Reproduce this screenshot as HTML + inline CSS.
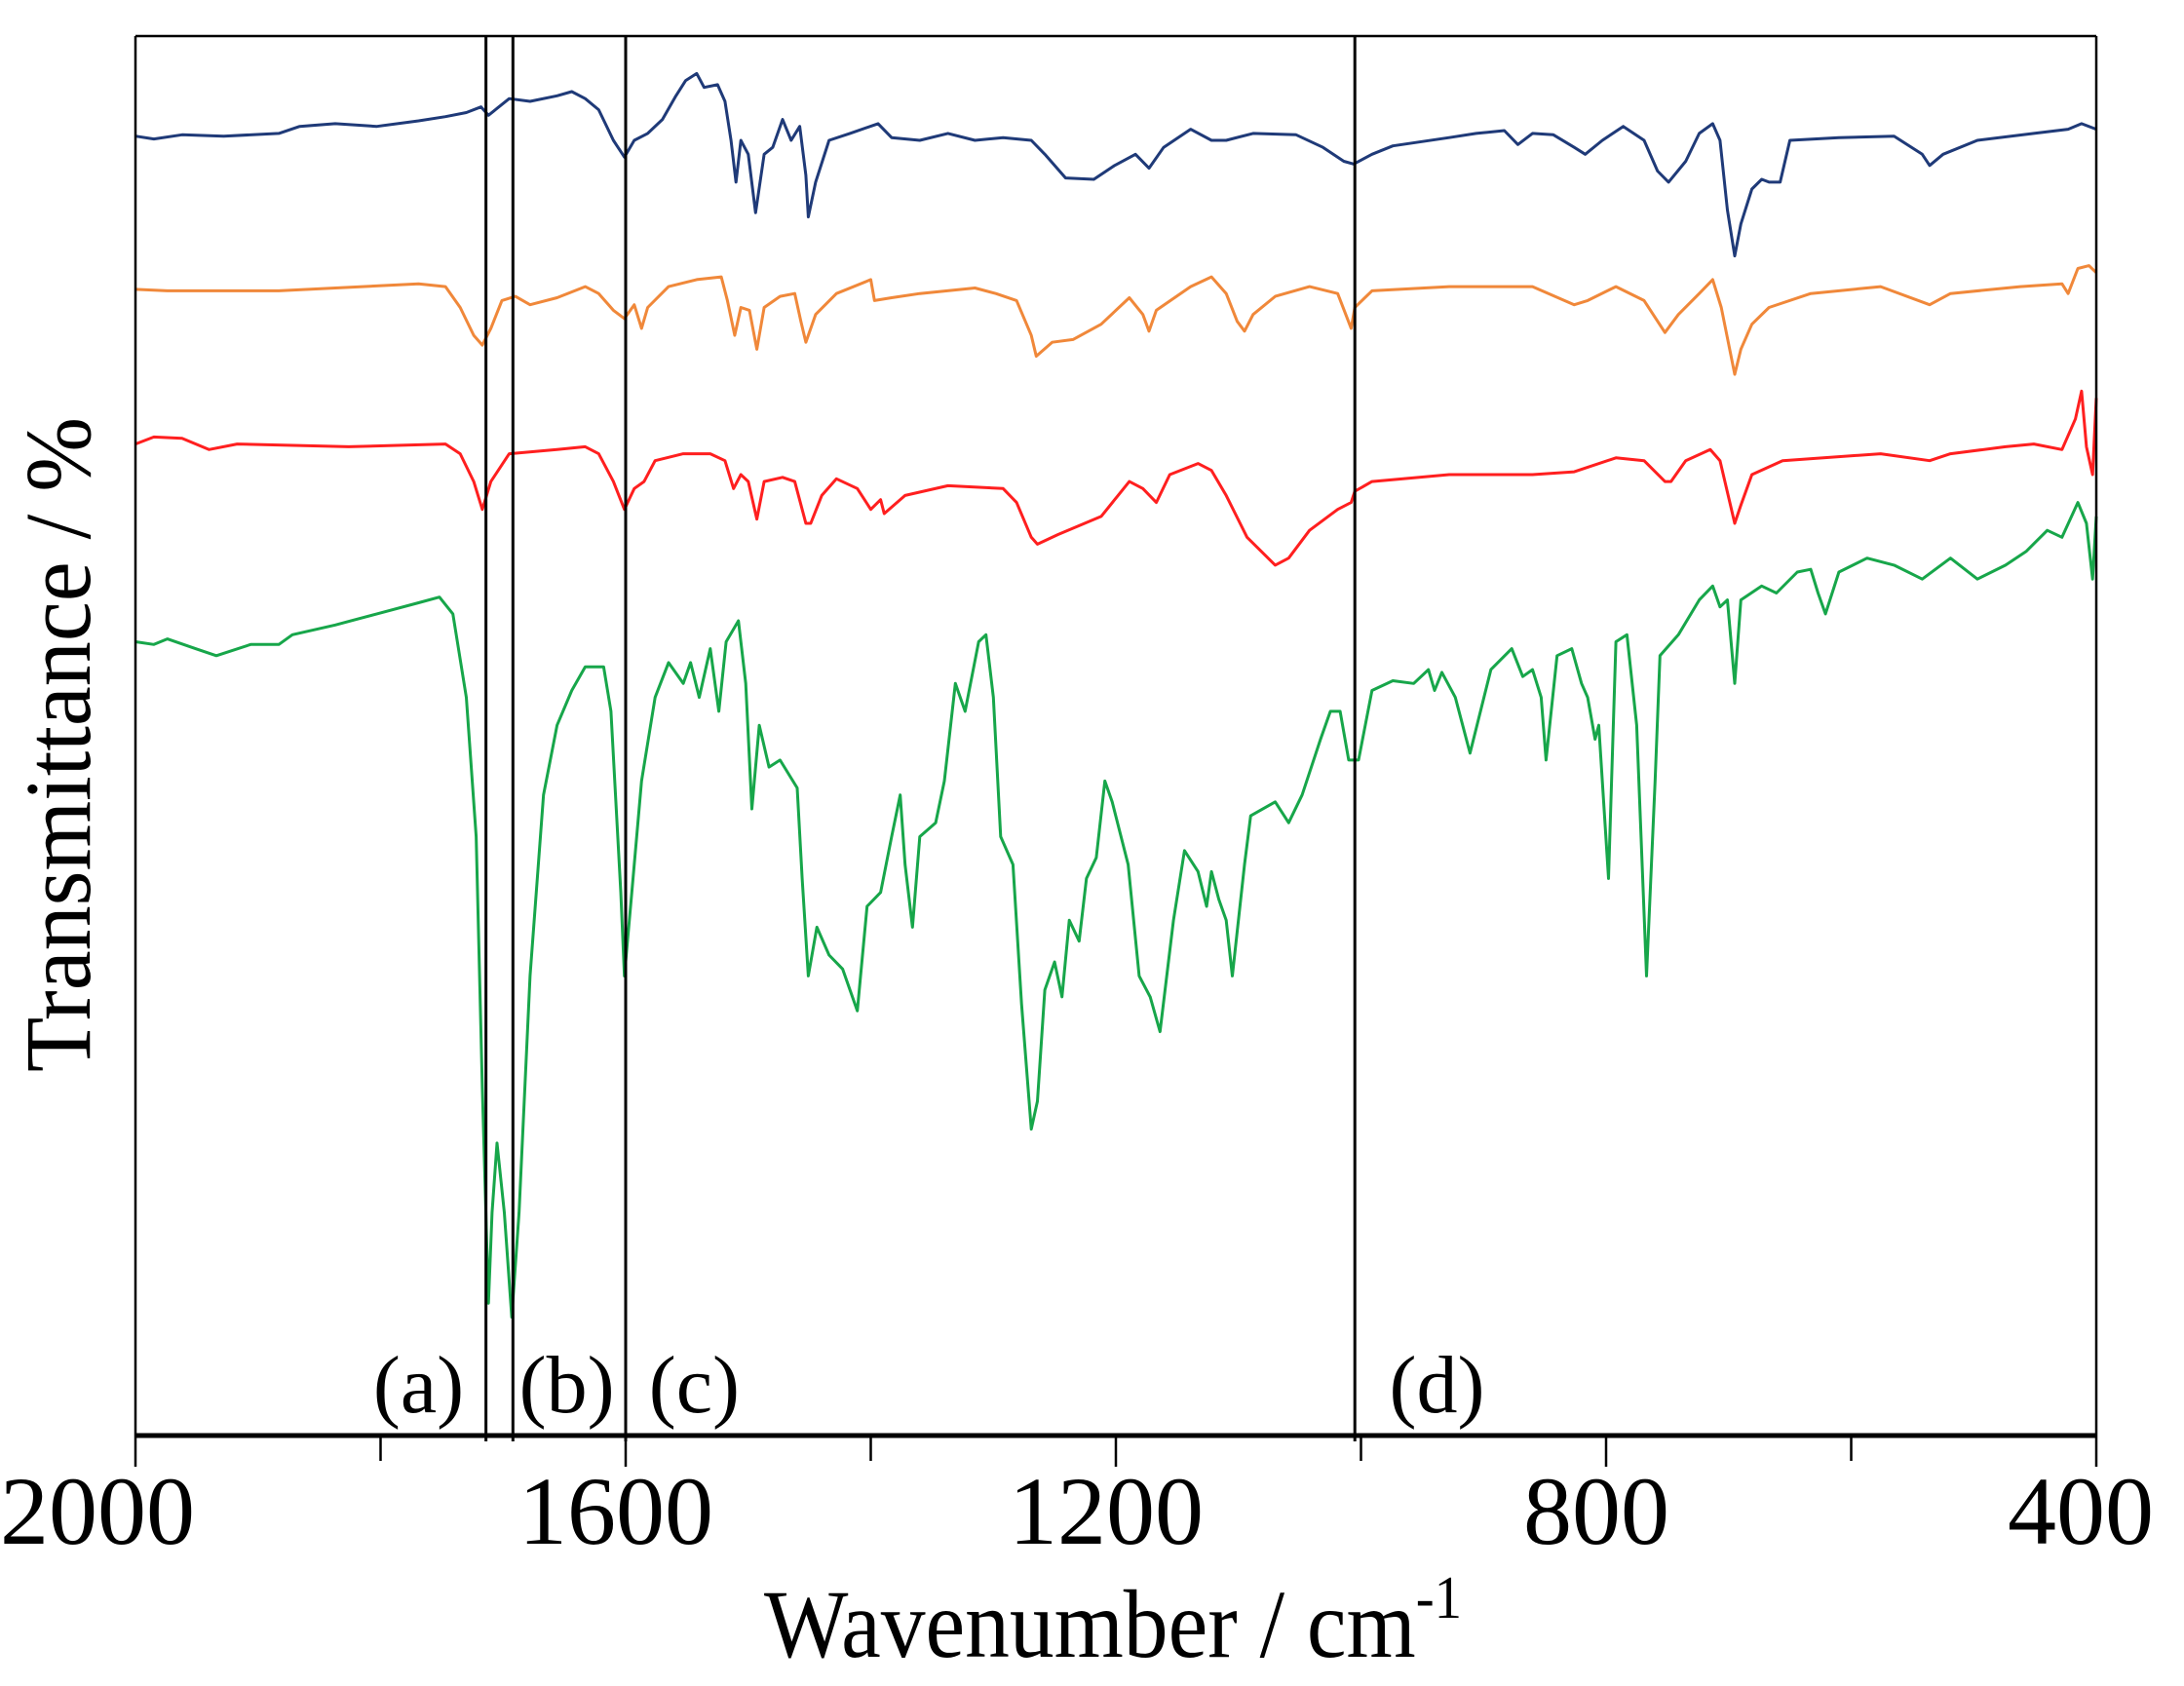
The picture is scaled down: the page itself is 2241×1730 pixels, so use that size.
<!DOCTYPE html>
<html><head><meta charset="utf-8"><style>
html,body{margin:0;padding:0;background:#fff;}
svg{display:block;}
text{font-family:"Liberation Serif",serif;fill:#000;}
</style></head><body>
<svg id="chart" width="2241" height="1730" viewBox="0 0 2241 1730" xmlns="http://www.w3.org/2000/svg">
<rect x="0" y="0" width="2241" height="1730" fill="#fff"/>
<g id="series"></g>
<g id="frame"></g>
<g id="xticks"></g>
<g id="marks"></g>
<text x="784" y="1700" font-size="100" textLength="716" lengthAdjust="spacingAndGlyphs">Wavenumber  / cm<tspan font-size="62" dy="-40">-1</tspan></text>
<text transform="translate(92,1100) rotate(-90)" font-size="96" textLength="672" lengthAdjust="spacingAndGlyphs">Transmittance  / %</text>
</svg>
<script>
// X axis ticks
const xTickValues = [2000, 1600, 1200, 800, 400];
const xMinorTicks = [1800, 1400, 1000, 600];
// Band marker lines and labels
const bandPositions = [1714, 1692, 1600, 1005];
const bandLabels = ["(a)", "(b)", "(c)", "(d)"];
const bandLabelWn = [1769, 1648, 1544, 938];

// Series: navy (top)
const navyWn = [2000,1985,1962,1928,1883,1866,1837,1803,1769,1747,1730,1718,1712,1695,1678,1656,1644,1633,1622,1610,1601,1593,1582,1570,1559,1551,1542,1536,1525,1519,1514,1510,1506,1500,1494,1487,1480,1472,1465,1458,1453,1451,1445,1434,1417,1394,1383,1360,1337,1315,1292,1269,1258,1241,1218,1201,1184,1173,1161,1139,1122,1110,1088,1053,1031,1014,1006,991,974,928,906,883,872,860,843,826,817,803,786,769,758,749,735,724,713,707,701,695,690,681,673,667,658,650,610,565,542,536,525,497,451,423,412,400];
const navyT = [93.3,93.1,93.4,93.3,93.5,94,94.2,94,94.4,94.7,95,95.4,94.8,96,95.8,96.2,96.5,96,95.2,93,91.8,93,93.5,94.5,96.2,97.3,97.8,96.8,97,95.8,93,90,93,92,87.8,92,92.5,94.5,93,94,90.5,87.5,90,93,93.5,94.2,93.2,93,93.5,93,93.2,93,92,90.3,90.2,91.2,92,91,92.5,93.8,93,93,93.5,93.4,92.5,91.5,91.3,92,92.6,93.2,93.5,93.7,92.7,93.5,93.4,92.5,92,93,94,93,90.8,90,91.5,93.5,94.2,93,88,84.7,87,89.5,90.2,90,90,93,93.2,93.3,92,91.2,92,93,93.5,93.8,94.2,93.8];

// Series: orange
const orangeWn = [2000,1974,1883,1769,1747,1735,1724,1717,1710,1701,1690,1678,1656,1633,1622,1610,1601,1593,1587,1582,1565,1542,1522,1517,1511,1506,1499,1493,1487,1474,1462,1457,1453,1445,1428,1400,1397,1383,1360,1315,1298,1281,1269,1265,1252,1235,1212,1189,1178,1173,1167,1139,1122,1110,1101,1095,1088,1070,1042,1019,1008,1005,991,928,860,826,815,792,769,752,741,724,713,706,695,690,681,667,633,576,536,519,462,428,423,415,406,400];
const orangeT = [82.3,82.2,82.2,82.7,82.5,81,79,78.3,79.5,81.5,81.8,81.2,81.7,82.5,82,80.8,80.2,81.2,79.5,81,82.5,83,83.2,81.5,79,81,80.8,78,81,81.8,82,80,78.5,80.5,82,83,81.5,81.7,82,82.4,82,81.5,79,77.5,78.5,78.7,79.8,81.7,80.5,79.3,80.8,82.5,83.2,82,80,79.3,80.5,81.8,82.5,82,79.5,81,82.2,82.5,82.5,81.2,81.5,82.5,81.5,79.2,80.5,82,83,81,76.2,78,79.8,81,82,82.5,81.2,82,82.5,82.7,82,83.8,84,83.5];

// Series: red
const redWn = [2000,1985,1962,1940,1917,1826,1747,1735,1724,1717,1710,1695,1656,1633,1622,1610,1601,1593,1585,1576,1553,1531,1519,1512,1506,1500,1493,1487,1472,1462,1453,1449,1440,1428,1411,1400,1392,1389,1372,1337,1292,1281,1269,1264,1247,1212,1189,1178,1167,1156,1133,1122,1110,1093,1070,1059,1042,1019,1008,1005,991,928,860,826,792,769,752,747,735,715,707,695,690,681,656,576,536,519,474,451,428,417,412,408,403,400];
const redT = [71.2,71.7,71.6,70.8,71.2,71,71.2,70.5,68.5,66.5,68.5,70.5,70.8,71,70.5,68.5,66.5,68,68.5,70,70.5,70.5,70,68,69,68.5,65.8,68.5,68.8,68.5,65.5,65.5,67.5,68.7,68,66.5,67.2,66.2,67.5,68.2,68,67,64.5,64,64.7,66,68.5,68,67,69,69.8,69.3,67.5,64.5,62.5,63,65,66.5,67,67.8,68.5,69,69,69.2,70.2,70,68.5,68.5,70,70.8,70,65.5,66.8,69,70,70.5,70,70.5,71,71.2,70.8,73,75,71,69,74.5];

// Series: green (bottom)
const greenWn = [2000,1985,1974,1951,1934,1906,1883,1872,1837,1803,1769,1752,1741,1730,1722,1717,1712,1709,1705,1699,1693,1687,1678,1667,1656,1644,1633,1618,1612,1604,1601,1595,1587,1576,1565,1553,1547,1540,1531,1524,1518,1508,1502,1497,1491,1483,1474,1460,1456,1451,1444,1434,1423,1411,1403,1392,1383,1376,1372,1366,1360,1347,1340,1331,1323,1312,1306,1300,1294,1284,1277,1269,1264,1258,1250,1244,1238,1230,1224,1216,1209,1203,1190,1181,1172,1164,1153,1144,1133,1126,1122,1116,1110,1105,1095,1090,1070,1059,1048,1033,1025,1017,1010,1002,991,974,957,945,940,934,923,911,894,877,868,860,853,849,840,828,820,815,809,806,798,792,783,775,767,760,756,741,724,713,707,701,695,690,673,661,644,633,627,621,610,587,565,542,519,497,474,457,440,428,415,408,403,400];
const greenT = [57,56.8,57.2,56.5,56,56.8,56.8,57.5,58.2,59,59.8,60.2,59,53,43,25,9.5,16,21,16,8.5,16,33,46,51,53.5,55.2,55.2,52,39,33,39,47,53,55.5,54,55.5,53,56.5,52,57,58.5,54,45,51,48,48.5,46.5,40,33,36.5,34.5,33.5,30.5,38,39,43,46,41,36.5,43,44,47,54,52,57,57.5,53,43,41,31,22,24,32,34,31.5,37,35.5,40,41.5,47,45.5,41,33,31.5,29,37,42,40.5,38,40.5,38.5,37,33,41,44.5,45.5,44,46,50,52,52,48.5,48.5,53.5,54.2,54,55,53.5,54.8,53,49,55,56.5,54.5,55,53,48.5,56,56.5,54,53,50,51,40,57,57.5,51,33,47,56,57.5,60,61,59.5,60,54,60,61,60.5,62,62.2,60.5,59,62,63,62.5,61.5,63,61.5,62.5,63.5,65,64.5,67,65.5,61.5,66];

const NS = "http://www.w3.org/2000/svg";
const L = 139, R = 2151, T = 37, B = 1473;
function xScale(wn){ return L + (2000 - wn) * (R - L) / 1600; }
function yScale(t){ return B - t * 14.29; }

function mk(tag, attrs, parent){
  const el = document.createElementNS(NS, tag);
  for (const k in attrs) el.setAttribute(k, attrs[k]);
  parent.appendChild(el);
  return el;
}

const sg = document.getElementById("series");
function drawSeries(wn, vals, color, name){
  let d = "";
  for (let i = 0; i < wn.length; i++) d += (i ? "L" : "M") + xScale(wn[i]).toFixed(1) + " " + yScale(vals[i]).toFixed(1);
  const p = mk("path", {d: d, fill: "none", stroke: color, "stroke-width": "3", "stroke-linejoin": "round"}, sg);
  
  
}
drawSeries(navyWn, navyT, "#1f3a78", "spectrum-navy");
drawSeries(orangeWn, orangeT, "#f0883a", "spectrum-orange");
drawSeries(redWn, redT, "#ff1f1f", "spectrum-red");
drawSeries(greenWn, greenT, "#17a64a", "spectrum-green");

const fg = document.getElementById("frame");
const fl = mk("line", {x1: L, y1: T, x2: R, y2: T, stroke: "#000", "stroke-width": "2.5"}, fg);


const fl2 = mk("line", {x1: L, y1: T, x2: L, y2: B, stroke: "#000", "stroke-width": "2.5"}, fg);


const fl3 = mk("line", {x1: R, y1: T, x2: R, y2: B, stroke: "#000", "stroke-width": "2.5"}, fg);


const fl4 = mk("line", {x1: L - 1, y1: B, x2: R + 1, y2: B, stroke: "#000", "stroke-width": "5"}, fg);



const tg = document.getElementById("xticks");
xTickValues.forEach(v => {
  const x = xScale(v);
  const t = mk("line", {x1: x, y1: B, x2: x, y2: B + 32, stroke: "#000", "stroke-width": "2.5"}, tg);
  
  
  let lx = x - 10;
  let anchor = "middle";
  if (v === 2000) { lx = 0; anchor = "start"; }
  if (v === 400) { lx = 2210; anchor = "end"; }
  const lab = mk("text", {x: lx, y: 1584, "font-size": "100", "text-anchor": anchor}, tg);
  lab.textContent = String(v);
  
  
});
xMinorTicks.forEach(v => {
  const x = xScale(v);
  const t = mk("line", {x1: x, y1: B, x2: x, y2: B + 26, stroke: "#000", "stroke-width": "2.5"}, tg);
  
  
});

const mg = document.getElementById("marks");
bandPositions.forEach((v, i) => {
  const x = xScale(v);
  const ln = mk("line", {x1: x, y1: T, x2: x, y2: B + 6, stroke: "#000", "stroke-width": "3"}, mg);
  
  
  const lab = mk("text", {x: xScale(bandLabelWn[i]), y: 1449, "font-size": "84", "text-anchor": "middle"}, mg);
  lab.textContent = bandLabels[i];
  
  
});
</script>
</body></html>
